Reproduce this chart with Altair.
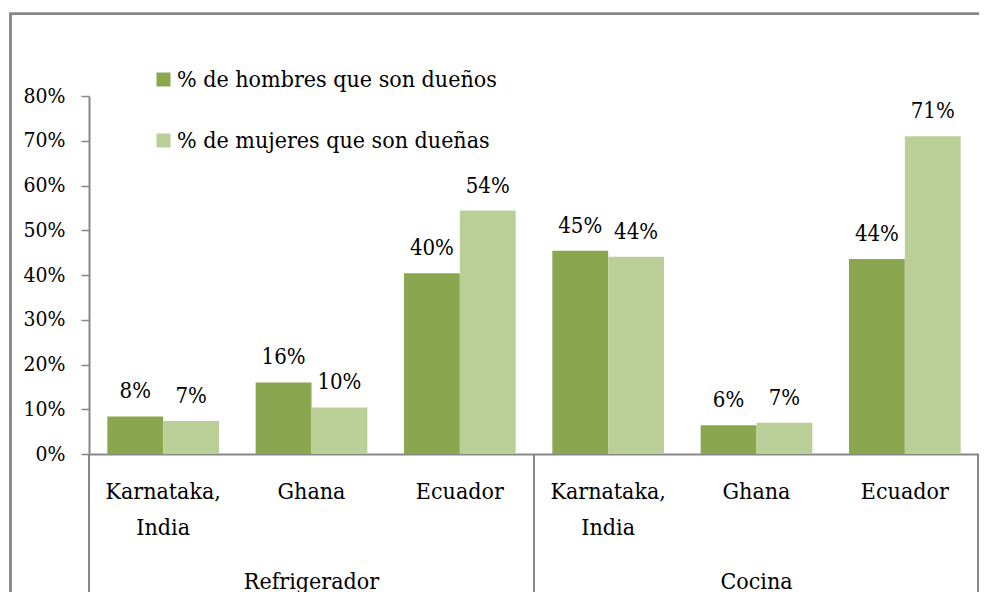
import altair as alt
import pandas as pd

# ---- data ----
groups = ["Refrigerador", "Refrigerador", "Refrigerador", "Cocina", "Cocina", "Cocina"]
countries = ["Karnataka, India", "Ghana", "Ecuador", "Karnataka, India", "Ghana", "Ecuador"]
series_names = ["% de hombres que son dueños", "% de mujeres que son dueñas"]
men = [0.084, 0.160, 0.404, 0.454, 0.064, 0.436]
women = [0.074, 0.104, 0.544, 0.441, 0.070, 0.710]
y_ticks = [0, 0.1, 0.2, 0.3, 0.4, 0.5, 0.6, 0.7, 0.8]
colors = ["#8AA64F", "#BACF97"]

keys = [f"{g}#{c}" for g, c in zip(groups, countries)]
rows = []
for k, g, c, m, w in zip(keys, groups, countries, men, women):
    rows.append({"key": k, "group": g, "country": c, "series": series_names[0], "value": m})
    rows.append({"key": k, "group": g, "country": c, "series": series_names[1], "value": w})
df = pd.DataFrame(rows)

group_names = ["Refrigerador", "Cocina"]
group_mid = [keys[1], keys[4]]
gdf = pd.DataFrame({"group": group_names, "key": group_mid})

W, H = 890, 358
FONT = "DejaVu Serif Condensed, DejaVu Serif"
GRAY = "#878787"

xscale = alt.Scale(domain=keys, paddingInner=0.247, paddingOuter=0.1235)
xenc = alt.X("key:N", scale=xscale, sort=keys,
             axis=alt.Axis(title=None, labelAngle=0, ticks=False, tickSize=0,
                           labelExpr="split(replace(split(datum.label, '#')[1], ', ', ',|'), '|')",
                           labelFont=FONT, labelFontSize=23, labelColor="black",
                           labelPadding=26, labelLineHeight=36,
                           domainColor=GRAY, domainWidth=2))
yenc = alt.Y("value:Q", scale=alt.Scale(domain=[0, 0.8], nice=False),
             axis=alt.Axis(title=None, values=y_ticks, format=".0%", grid=False,
                           labelFont=FONT, labelFontSize=21, labelColor="black",
                           tickSize=8, tickColor=GRAY, tickWidth=1.5,
                           domainColor=GRAY, domainWidth=2, labelPadding=16))
xoff = alt.XOffset("series:N", sort=series_names,
                   scale=alt.Scale(paddingInner=0, paddingOuter=0))

base = alt.Chart(df)

bars = base.mark_bar().encode(
    x=xenc, y=yenc, xOffset=xoff,
    color=alt.Color("series:N", sort=series_names,
                    scale=alt.Scale(domain=series_names, range=colors),
                    legend=alt.Legend(title=None, orient="none", legendX=63, legendY=-28,
                                      symbolType="square", symbolSize=196,
                                      symbolStrokeWidth=0, labelFont=FONT,
                                      labelFontSize=23, labelColor="black",
                                      rowPadding=37, labelOffset=2, padding=0,
                                      labelLimit=600)),
)

labels = base.mark_text(font=FONT, fontSize=22, color="black",
                        baseline="alphabetic", dy=-18).encode(
    x=alt.X("key:N", scale=xscale, sort=keys),
    xOffset=xoff,
    y=alt.Y("value:Q"),
    text=alt.Text("value:Q", format=".0%"),
)

glabels = alt.Chart(gdf).mark_text(font=FONT, fontSize=23, color="black",
                                   baseline="alphabetic").encode(
    x=alt.X("key:N", scale=xscale, sort=keys),
    y=alt.value(492.5),
    text="group:N",
)

layers = [bars, labels, glabels]
for px in [0, W / 2, W - 1]:
    layers.append(
        alt.Chart(gdf).mark_rule(color=GRAY, strokeWidth=2).encode(
            x=alt.value(px), y=alt.value(H), y2=alt.value(H + 200)
        )
    )

frame = alt.Chart(gdf).mark_rect(fill="transparent", stroke=GRAY, strokeWidth=2.5).encode(
    x=alt.value(-78.5), x2=alt.value(W + 200), y=alt.value(-82.3), y2=alt.value(H + 300)
)
layers.append(frame)

chart = alt.layer(*layers).properties(
    width=W, height=H,
    background="white",
    autosize=alt.AutoSizeParams(type="none"),
    padding={"left": 81, "top": 88, "right": 0, "bottom": 138},
).configure_view(stroke="transparent", strokeWidth=0)

chart.save("out.html", embed_options={"renderer": "svg", "actions": False})
